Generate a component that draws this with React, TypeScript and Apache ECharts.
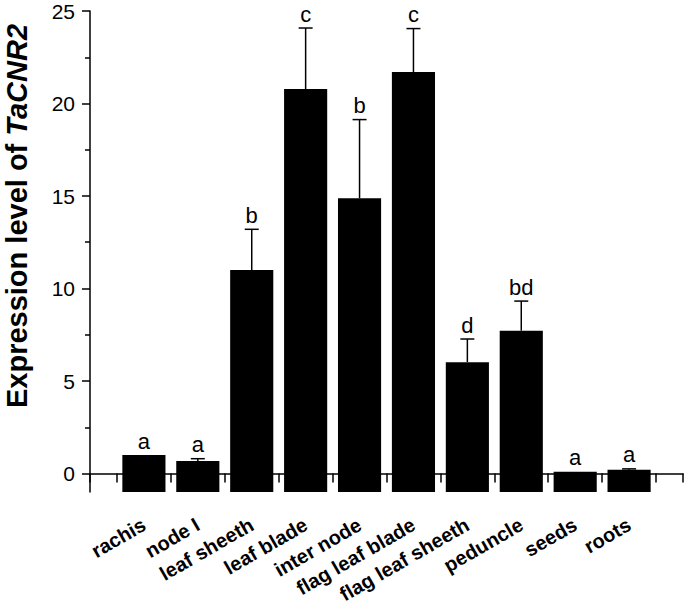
import React, { useEffect, useRef } from "react";
import * as echarts from "echarts";

const categories = [
  "rachis",
  "node I",
  "leaf sheeth",
  "leaf blade",
  "inter node",
  "flag leaf blade",
  "flag leaf sheeth",
  "peduncle",
  "seeds",
  "roots",
];
const means = [1.0, 0.68, 11.0, 20.78, 14.88, 21.7, 6.02, 7.72, 0.09, 0.2];
const errors = [0, 0.12, 2.2, 3.3, 4.25, 2.35, 1.25, 1.6, 0, 0.05];
const letters = ["a", "a", "b", "c", "b", "c", "d", "bd", "a", "a"];
const yMajorTicks = [0, 5, 10, 15, 20, 25];
const yMinorTicks = [2.5, 7.5, 12.5, 17.5, 22.5];

const FONT = "'Liberation Sans', Arial, Helvetica, sans-serif";

export default function App() {
  const ref = useRef<HTMLDivElement>(null);
  useEffect(() => {
    if (!ref.current) return;
    const chart = echarts.init(ref.current, undefined, { renderer: "svg" });
    const data = means.map((m, i) => [i + 1, m, errors[i], i]);
    const option: any = {
      animation: false,
      backgroundColor: "#fff",
      grid: { left: 90, right: 2, top: 11, bottom: 112, outerBoundsMode: "none" },
      xAxis: {
        type: "value",
        min: 0,
        max: 11,
        interval: 0.5,
        splitLine: { show: false },
        axisLine: { lineStyle: { color: "#000", width: 1.5 } },
        axisTick: { length: 9, lineStyle: { color: "#000", width: 1.5 } },
        axisLabel: {
          rotate: 30,
          margin: 31,
          fontSize: 20,
          fontWeight: "bold",
          fontFamily: FONT,
          color: "#000",
          formatter: (v: number) => {
            const idx = Math.round(v);
            if (Math.abs(v - idx) < 1e-6 && idx >= 1 && idx <= categories.length) {
              return categories[idx - 1];
            }
            return "";
          },
        },
      },
      yAxis: [
        {
          type: "value",
          min: -1,
          max: 25,
          interval: 1,
          splitLine: { show: false },
          axisLine: { show: true, lineStyle: { color: "#000", width: 1.5 } },
          axisTick: {
            customValues: yMajorTicks,
            length: 8,
            lineStyle: { color: "#000", width: 1.5 },
          },
          axisLabel: {
            customValues: yMajorTicks,
            margin: 15,
            fontSize: 21,
            fontFamily: FONT,
            color: "#000",
          },
        },
        {
          type: "value",
          min: -1,
          max: 25,
          interval: 1,
          position: "left",
          splitLine: { show: false },
          axisLine: { show: false },
          axisTick: {
            customValues: yMinorTicks,
            length: 5,
            lineStyle: { color: "#000", width: 1.5 },
          },
          axisLabel: { show: false },
        },
      ],
      graphic: [
        {
          type: "text",
          x: 17,
          y: 216,
          rotation: Math.PI / 2,
          style: {
            text: "{n|Expression level of }{i|TaCNR2}",
            align: "center",
            verticalAlign: "middle",
            fill: "#000",
            rich: {
              n: { fontSize: 29, fontWeight: "bold", fontFamily: FONT, fill: "#000" },
              i: {
                fontSize: 29,
                fontWeight: "bold",
                fontStyle: "italic",
                fontFamily: FONT,
                fill: "#000",
              },
            },
          },
        },
      ],
      series: [
        {
          type: "custom",
          xAxisIndex: 0,
          yAxisIndex: 0,
          data,
          encode: { x: 0, y: 1 },
          renderItem: (params: any, api: any) => {
            const x = api.value(0);
            const m = api.value(1);
            const e = api.value(2);
            const idx = api.value(3);
            const bottom = api.coord([x, -1]);
            const top = api.coord([x, m]);
            const w = api.size([0.8, 0])[0];
            const children: any[] = [
              {
                type: "rect",
                shape: { x: top[0] - w / 2, y: top[1], width: w, height: bottom[1] - top[1] },
                style: { fill: "#000" },
              },
            ];
            let labelY = top[1];
            if (e > 0) {
              const cap = api.coord([x, m + e]);
              children.push({
                type: "line",
                shape: { x1: top[0], y1: top[1], x2: cap[0], y2: cap[1] },
                style: { stroke: "#000", lineWidth: 1.5 },
              });
              children.push({
                type: "line",
                shape: { x1: cap[0] - 7, y1: cap[1], x2: cap[0] + 7, y2: cap[1] },
                style: { stroke: "#000", lineWidth: 1.5 },
              });
              labelY = cap[1];
            }
            children.push({
              type: "text",
              x: top[0],
              y: labelY - 3,
              style: {
                text: letters[idx],
                align: "center",
                verticalAlign: "bottom",
                fontSize: 22,
                fontFamily: FONT,
                fill: "#000",
              },
            });
            return { type: "group", children };
          },
        },
      ],
    };
    chart.setOption(option);
    return () => chart.dispose();
  }, []);
  return (
    <div
      ref={ref}
      style={{ position: "fixed", left: 0, top: 0, width: 685, height: 604, background: "#fff" }}
    />
  );
}
